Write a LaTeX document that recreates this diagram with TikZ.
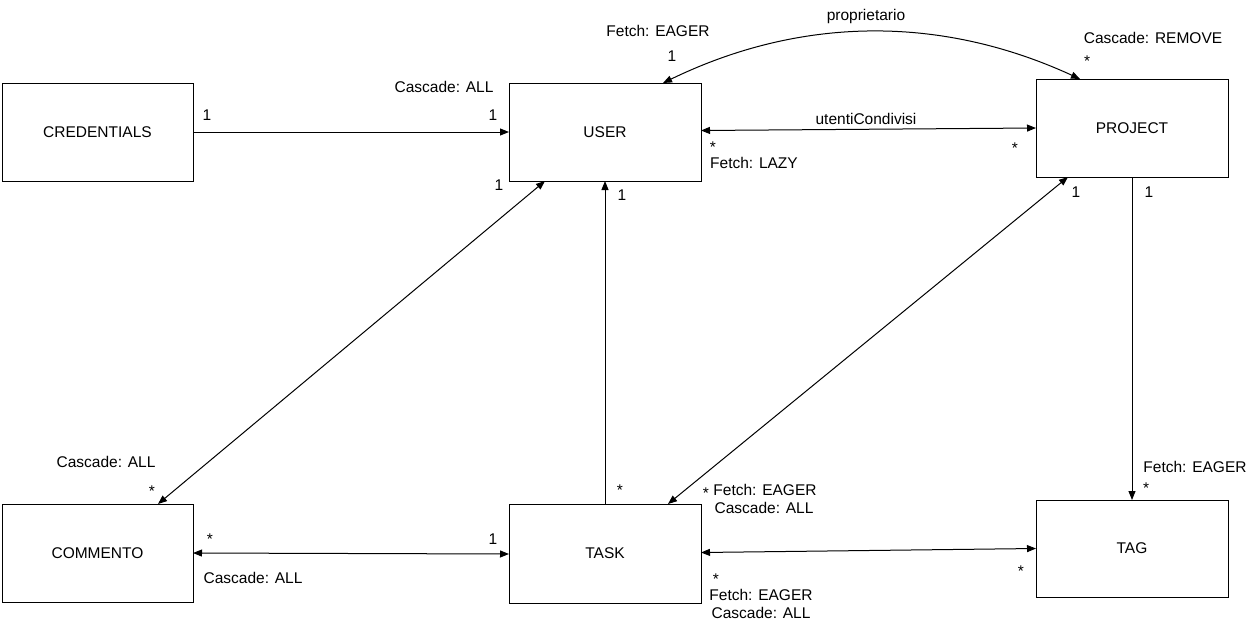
\documentclass[tikz,border=0pt]{standalone}
\usepackage{fontspec}
\setmainfont{Liberation Sans}
\usetikzlibrary{arrows.meta}
\begin{document}
\begin{tikzpicture}[x=1pt,y=-1pt,
  every node/.style={font=\fontsize{15.5}{18}\selectfont},
  box/.style={draw, line width=1pt, minimum width=192pt, minimum height=98pt, inner sep=0pt, outer sep=0pt},
  lbl/.style={anchor=base, inner sep=0pt, outer sep=0pt},
  conn/.style={line width=1pt},
  tip/.style={Triangle[length=9pt,width=7pt]},
  one/.style={conn,-{Triangle[length=9pt,width=7pt]}},
  two/.style={conn,{Triangle[length=9pt,width=7pt]}-{Triangle[length=9pt,width=7pt]}}
]
\useasboundingbox (0,0) rectangle (1252,627);
% boxes
\node[box, minimum width=191pt] (cred) at (97.5,132) {CREDENTIALS};
\node[box] (user) at (605,132) {USER};
\node[box] (project) at (1132,128) {PROJECT};
\node[box, minimum height=97pt] (tag) at (1132,548.5) {TAG};
\node[box, minimum height=99pt] (task) at (605,553.5) {TASK};
\node[box, minimum width=191pt] (commento) at (97.5,553) {COMMENTO};

% connectors
\draw[one] (cred.east) -- (user.west);
\draw[two] ([yshift=1.5pt]user.east) -- (project.west);
\draw[two] ([xshift=58pt]user.north) .. controls (801,16) and (941,15) .. ([xshift=-52pt]project.north);
\draw[two] ([xshift=-60pt]user.south) -- ([xshift=60.5pt]commento.north);
\draw[one] (task.north) -- (user.south);
\draw[two] ([xshift=63pt]task.north) -- ([xshift=-64pt]project.south);
\draw[one] (project.south) -- (tag.north);
\draw[two] (commento.east) -- ([yshift=-0.5pt]task.west);
\draw[two] ([yshift=1pt]task.east) -- (tag.west);

% labels
\node[lbl] (l1) at (207,120.5) {1};
\node[lbl] (l2) at (493,120.5) {1};
\node[lbl] (l3) at (444,92.5) {Cascade: ALL};
\node[lbl] (l4) at (658,36.5) {Fetch: EAGER};
\node[lbl] (l5) at (672,61.5) {1};
\node[lbl] (l6) at (866,20) {proprietario};
\node[lbl] (l7) at (866,124) {utentiCondivisi};
\node[lbl] (l8) at (713,152) {*};
\node[lbl] (l9) at (754,168) {Fetch: LAZY};
\node[lbl] (l10) at (1015,153) {*};
\node[lbl] (l11) at (1153,43.5) {Cascade: REMOVE};
\node[lbl] (l12) at (1087,66) {*};
\node[lbl] (l13) at (1076,197.5) {1};
\node[lbl] (l14) at (1149,197.5) {1};
\node[lbl] (l15) at (499,190.5) {1};
\node[lbl] (l16) at (622,200.5) {1};
\node[lbl] (l17) at (106,467.5) {Cascade: ALL};
\node[lbl] (l18) at (152,496) {*};
\node[lbl] (l19) at (210,544) {*};
\node[lbl] (l20) at (493,544.5) {1};
\node[lbl] (l21) at (253,583.5) {Cascade: ALL};
\node[lbl] (l22) at (620,495) {*};
\node[lbl] (l23) at (706,498) {*};
\node[lbl] (l24) at (765,495.5) {Fetch: EAGER};
\node[lbl] (l25) at (764,513.5) {Cascade: ALL};
\node[lbl] (l26) at (716,584) {*};
\node[lbl] (l27) at (761,600.5) {Fetch: EAGER};
\node[lbl] (l28) at (761,618.5) {Cascade: ALL};
\node[lbl] (l29) at (1021,576) {*};
\node[lbl] (l30) at (1195,472.5) {Fetch: EAGER};
\node[lbl] (l31) at (1146,493) {*};
\end{tikzpicture}
\end{document}
